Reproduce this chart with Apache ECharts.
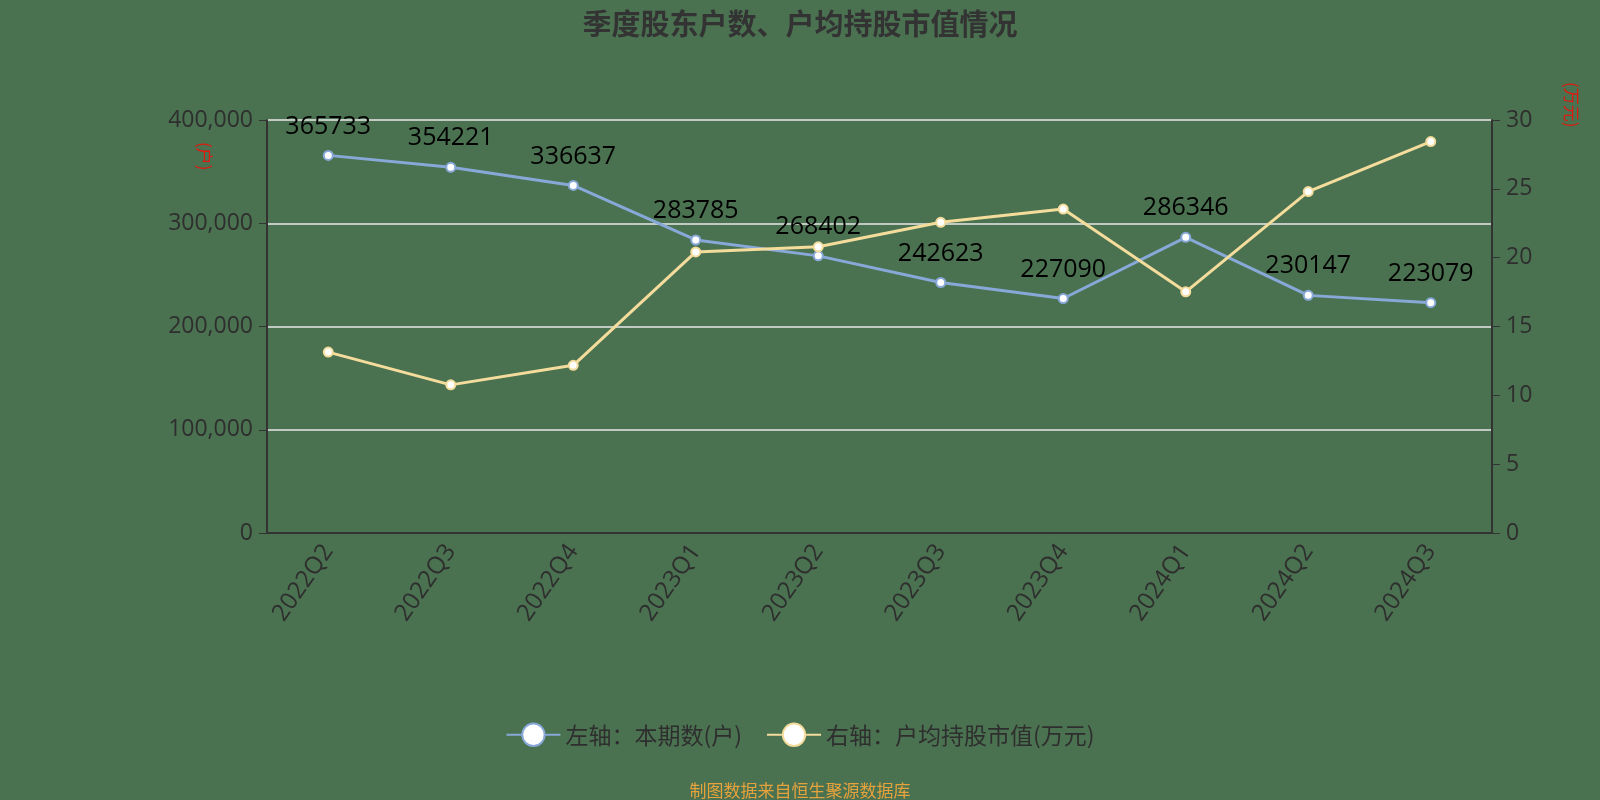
<!DOCTYPE html>
<html><head><meta charset="utf-8">
<script src="https://cdn.jsdelivr.net/npm/echarts@6/dist/echarts.min.js"></script>
<style>html,body{margin:0;padding:0;background:#4a7250;}#c{width:1600px;height:800px;}</style>
</head><body><div id="c"></div>
<script>
const categories = ['2022Q2','2022Q3','2022Q4','2023Q1','2023Q2','2023Q3','2023Q4','2024Q1','2024Q2','2024Q3'];
const holders = [365733,354221,336637,283785,268402,242623,227090,286346,230147,223079];
const avgValue = [13.14,10.76,12.18,20.42,20.79,22.57,23.53,17.52,24.80,28.43];
const seriesNames = ['左轴：本期数(户)','右轴：户均持股市值(万元)'];
const axisNames = ['(户)','(万元)'];

const chart = echarts.init(document.getElementById('c'));
chart.setOption({
  backgroundColor:'#4a7250',
  title:[{text:'季度股东户数、户均持股市值情况',left:'center',top:4,textStyle:{fontSize:29,fontWeight:'bold',color:'#333',fontFamily:'Noto Sans CJK SC'}},
         {text:'制图数据来自恒生聚源数据库',left:'center',top:777,textStyle:{fontSize:17,fontWeight:'normal',color:'#e6a23c',fontFamily:'Noto Sans CJK SC'}}],
  legend:{data:seriesNames,bottom:48,left:'center',itemWidth:54,itemHeight:28,itemGap:24,
    textStyle:{fontSize:23,color:'#2e2e2e',fontFamily:'Noto Sans CJK SC'}},
  grid:{left:267,right:108,top:120,bottom:267},
  graphic:[
    {type:'text',left:196,top:142,rotation:-Math.PI/2,style:{text:axisNames[0],fill:'#e0190f',fontSize:17,fontFamily:'Noto Sans CJK SC'}},
    {type:'text',left:1563,top:82,rotation:-Math.PI/2,style:{text:axisNames[1],fill:'#e0190f',fontSize:17,fontFamily:'Noto Sans CJK SC'}}
  ],
  xAxis:{type:'category',data:categories,boundaryGap:true,
    axisLine:{lineStyle:{color:'#333',width:2}},axisTick:{length:8,lineStyle:{color:'#333'}},
    axisLabel:{rotate:55,fontSize:24,color:'#2e2e2e',margin:14,fontFamily:'Open Sans'}},
  yAxis:[{type:'value',min:0,max:400000,interval:100000,
     axisLine:{show:true,lineStyle:{color:'#333',width:2}},axisTick:{show:true,length:8},
     axisLabel:{fontSize:23,color:'#2e2e2e',margin:14,fontFamily:'Open Sans',formatter:v=>v.toLocaleString('en-US')},
     splitLine:{lineStyle:{color:'#e8e8e8',width:1.5}}},
    {type:'value',min:0,max:30,interval:5,
     axisLine:{show:true,lineStyle:{color:'#333',width:2}},axisTick:{show:true,length:8},
     axisLabel:{fontSize:23,color:'#2e2e2e',margin:14,fontFamily:'Open Sans'},splitLine:{show:false}}],
  series:[
    {name:seriesNames[0],type:'line',yAxisIndex:0,data:holders,symbol:'circle',symbolSize:9,
     lineStyle:{color:'#88a8d8',width:3},itemStyle:{color:'#ffffff',borderColor:'#88a8d8',borderWidth:2},
     label:{show:true,position:'top',distance:11,fontSize:25,color:'#000',fontFamily:'Open Sans'}},
    {name:seriesNames[1],type:'line',yAxisIndex:1,data:avgValue,symbol:'circle',symbolSize:9,
     lineStyle:{color:'#f4dc9c',width:3},itemStyle:{color:'#ffffff',borderColor:'#f4dc9c',borderWidth:2}}
  ]
});
</script></body></html>
